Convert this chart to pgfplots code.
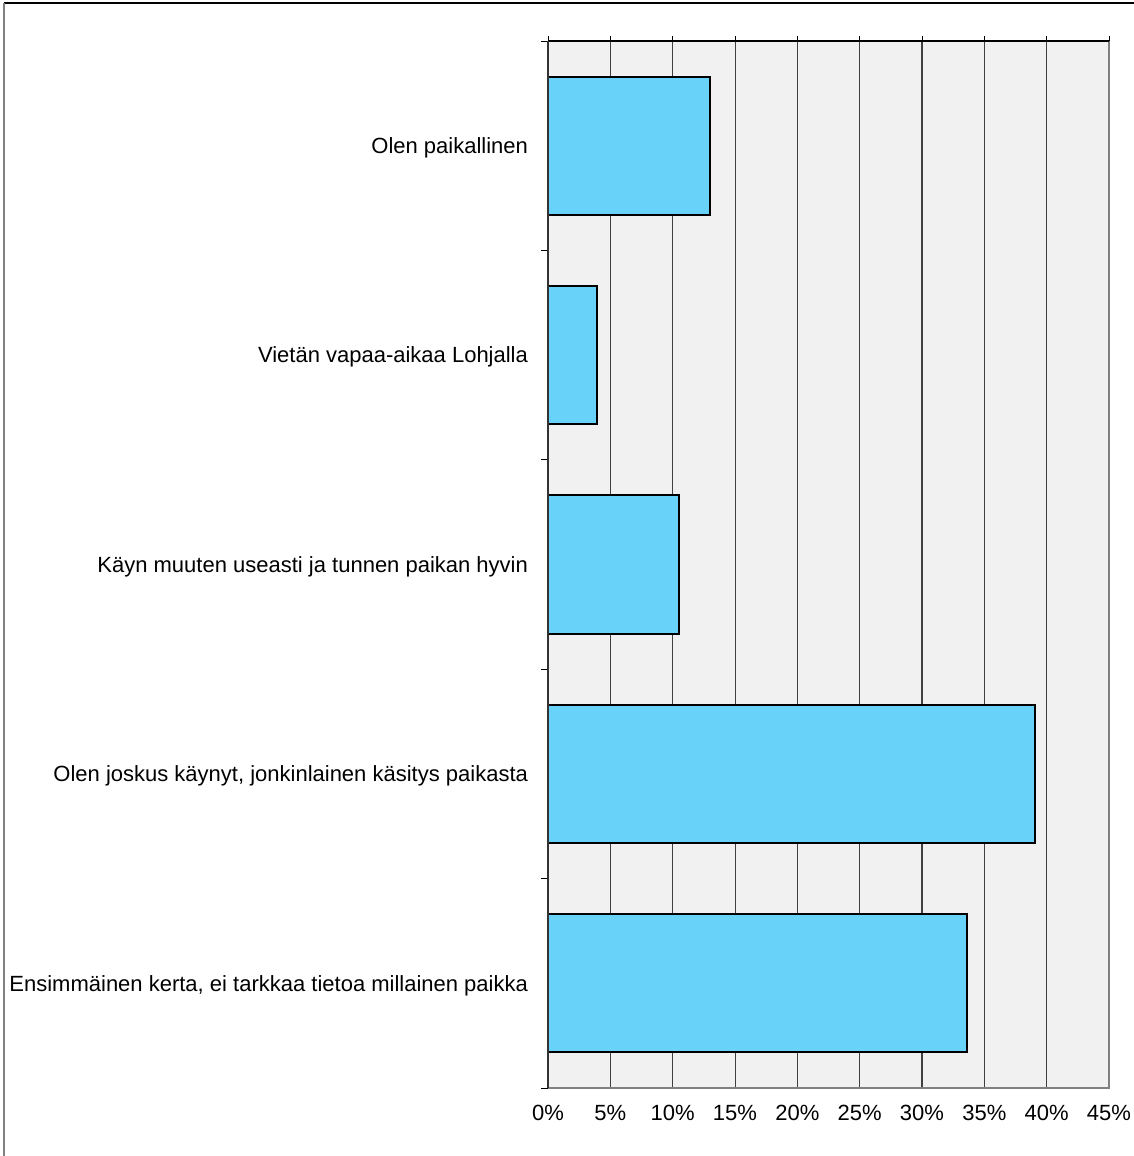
\documentclass[border=0pt]{standalone}
\usepackage{fontspec}
\setmainfont{Liberation Sans}
\usepackage{pgfplots}
\pgfplotsset{compat=1.18}
\definecolor{barblue}{HTML}{69D2F9}
\definecolor{bggray}{HTML}{F1F1F1}
\begin{document}
\begin{tikzpicture}
\useasboundingbox (0pt,0pt) rectangle (567pt,-578pt);
\draw[black, line width=0.6pt] (2pt,-1.5pt) -- (567pt,-1.5pt);
\draw[gray, line width=1pt] (2pt,-1.5pt) -- (2pt,-578pt);
\begin{axis}[
  at={(274pt,-20.5pt)}, anchor=north west,
  scale only axis, width=280.5pt, height=523.5pt,
  xbar, bar width=0.66,
  xmin=0, xmax=45,
  ymin=-0.5, ymax=4.5, y dir=reverse,
  xtick={0,5,...,45},
  xticklabel={\pgfmathprintnumber{\tick}\%},
  /pgf/number format/assume math mode=true,
  xtick pos=upper, xticklabel pos=lower,
  tick align=outside,
  major tick length=2.5pt,
  ytick={0,1,2,3,4},
  yticklabels={Olen paikallinen,Vietän vapaa-aikaa Lohjalla,Käyn muuten useasti ja tunnen paikan hyvin,{Olen joskus käynyt, jonkinlainen käsitys paikasta},{Ensimmäinen kerta, ei tarkkaa tietoa millainen paikka}},
  y tick style={draw=none},
  minor ytick={-0.5,0.5,...,4.5},
  minor y tick style={draw=black},
  minor tick length=3.5pt,
  ytick pos=left,
  xmajorgrids, major x grid style={black!75, line width=0.5pt},
  axis line style={draw=none},
  axis background/.style={fill=bggray},
  tick label style={font=\fontsize{11}{13}\selectfont},
  yticklabel style={xshift=-4pt, yshift=-1pt},
  xticklabel style={yshift=-2.5pt},
  every tick/.style={black, line width=0.4pt},
  clip=false,
]
\addplot[fill=barblue, draw=black, line width=1pt] coordinates {
(13.0,0) (3.9,1) (10.5,2) (39.05,3) (33.6,4)};
\draw[gray, line width=1pt] (axis description cs:0,0) -- (axis description cs:1,0) -- (axis description cs:1,1);
\draw[black, line width=0.6pt] (axis description cs:0,1) -- (axis description cs:1,1);
\draw[black!80, line width=0.6pt] (axis description cs:0,0) -- (axis description cs:0,1);
\end{axis}
\end{tikzpicture}
\end{document}
